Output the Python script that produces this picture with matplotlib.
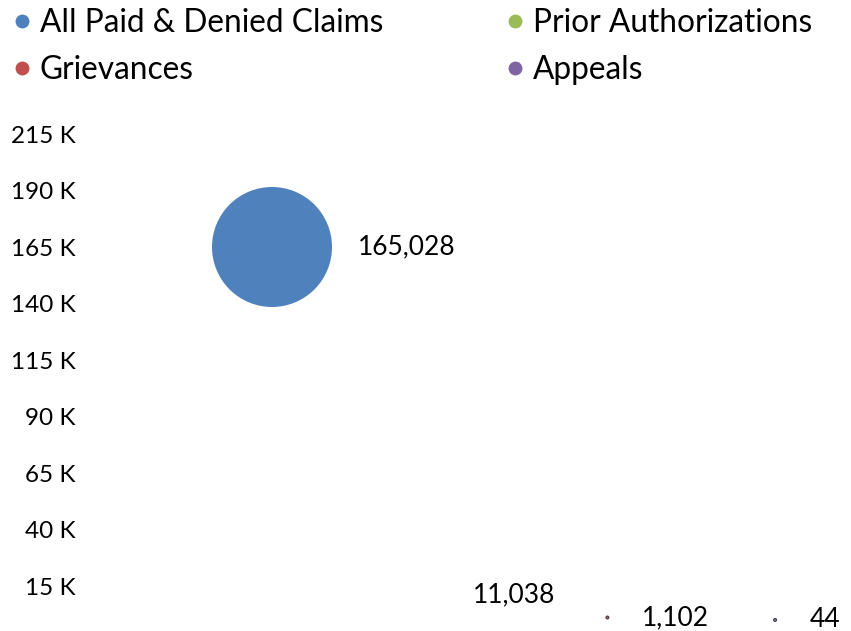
import matplotlib
matplotlib.use("Agg")
import matplotlib.pyplot as plt
from matplotlib.lines import Line2D

# Data
categories = ["All Paid & Denied Claims", "Prior Authorizations", "Grievances", "Appeals"]
x_pos = [1, 2, 3, 4]
counts = [165028, 11038, 1102, 44]
bubble_sizes = [7465, 0, 5, 5]
colors = ["#4F81BD", "#9BBB59", "#C0504D", "#8064A2"]
y_ticks = [15000, 40000, 65000, 90000, 115000, 140000, 165000, 190000, 215000]

plt.rcParams['font.family'] = ['Lato', 'DejaVu Sans']

W, H = 851, 631
fig = plt.figure(figsize=(W / 100, H / 100), dpi=100)

# axes placed in pixel terms
left_px, right_px, top_px, bottom_px = 85, 851, 110, 631
ax = fig.add_axes([left_px / W, 1 - bottom_px / H, (right_px - left_px) / W, (bottom_px - top_px) / H])

px_per_unit = 167.7
ax.set_xlim(1 - (272 - left_px) / px_per_unit, 1 + (right_px - 272) / px_per_unit)
k = 373 / 165028
ax.set_ylim(-(bottom_px - 620) / k, (620 - top_px) / k)

# tiny bubbles get a dark rim so they read as dots, like the original
ax.scatter(x_pos, counts, s=bubble_sizes, c=colors, linewidths=[0, 0, 0.6, 0.6],
           edgecolors="#333333", zorder=3)

for x, y, s in zip(x_pos, counts, bubble_sizes):
    off = 0.87 * (s ** 0.5) / 2 + 24
    ax.annotate(f"{y:,}", (x, y), xytext=(off, 0), textcoords="offset points",
                ha="left", va="center", fontsize=19)

ax.set_yticks(y_ticks)
ax.set_yticklabels([f"{int(t / 1000)} K" for t in y_ticks], fontsize=17.5)
ax.tick_params(axis="y", length=0, pad=7)
ax.set_xticks([])
for sp in ax.spines.values():
    sp.set_visible(False)

handles = [Line2D([], [], marker="o", linestyle="", markersize=10, color=c, markeredgewidth=0)
           for c in colors]
order = [0, 2, 1, 3]
fig.legend([handles[i] for i in order], [categories[i] for i in order], ncol=2,
           loc="upper left", bbox_to_anchor=(-0.026, 1.033), frameon=False, fontsize=22.8,
           handletextpad=0.05, columnspacing=3.68, labelspacing=0.545, handlelength=1.0)

fig.savefig("out.png", dpi=100)
